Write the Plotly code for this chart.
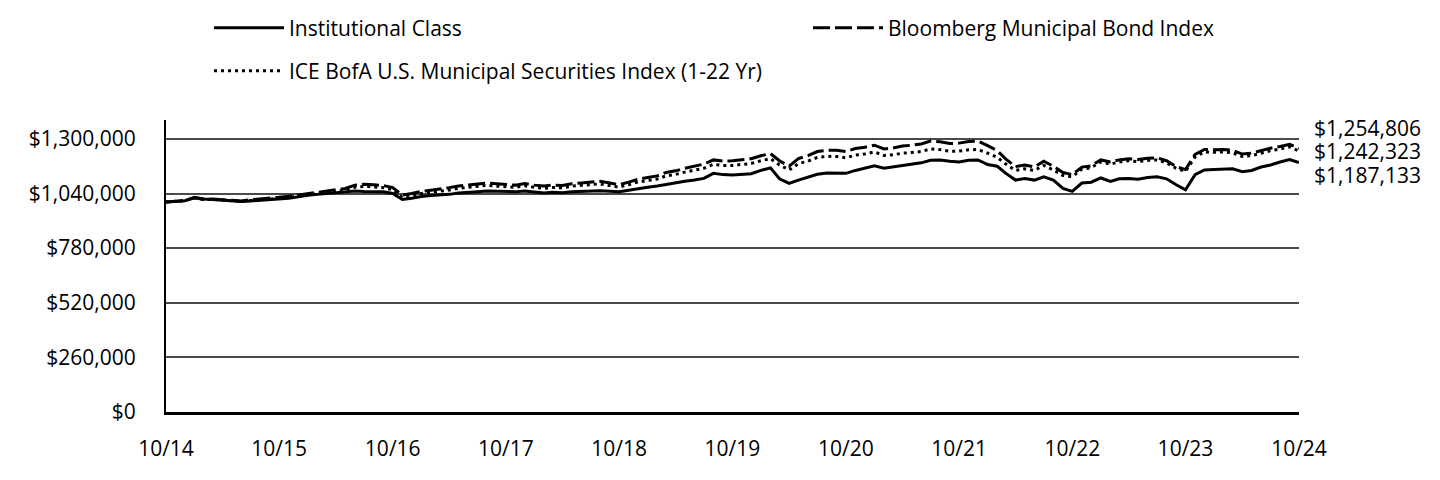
import pandas as pd
import plotly.graph_objects as go

months = pd.date_range("2014-10-01", periods=121, freq="MS")

tick_dates = ["2014-10-01", "2015-10-01", "2016-10-01", "2017-10-01", "2018-10-01",
              "2019-10-01", "2020-10-01", "2021-10-01", "2022-10-01", "2023-10-01", "2024-10-01"]
tick_labels = ["10/14", "10/15", "10/16", "10/17", "10/18", "10/19",
               "10/20", "10/21", "10/22", "10/23", "10/24"]

y_ticks = [0, 260000, 520000, 780000, 1040000, 1300000]
y_tick_labels = [f"${v:,}" for v in y_ticks]

# values in thousands of dollars
institutional_k = [
    1000, 1002, 1006, 1022, 1014, 1012, 1009, 1006, 1002, 1005, 1008, 1012,
    1015, 1018, 1024, 1032, 1036, 1040, 1045, 1048, 1052, 1050, 1050, 1048,
    1040, 1012, 1018, 1026, 1030, 1032, 1036, 1042, 1044, 1048, 1052, 1050,
    1050, 1049, 1052, 1046, 1043, 1046, 1044, 1048, 1050, 1052, 1053, 1051,
    1048, 1056, 1064, 1070, 1076, 1084, 1090, 1098, 1104, 1112, 1136, 1130,
    1128, 1130, 1134, 1150, 1162, 1110, 1088, 1104, 1118, 1132, 1138, 1138,
    1136, 1150, 1160, 1172, 1160, 1166, 1176, 1180, 1186, 1198, 1200, 1194,
    1190, 1198, 1200, 1178, 1170, 1136, 1104, 1112, 1104, 1120, 1104, 1064,
    1050, 1090, 1094, 1114, 1098, 1110, 1112, 1108, 1116, 1120, 1110, 1082,
    1058, 1130, 1152, 1154, 1156, 1158, 1144, 1150, 1166, 1176, 1190, 1202,
    1187.133,
]

bloomberg_k = [
    1000, 1002, 1006, 1020, 1012, 1014, 1010, 1007, 1005, 1010, 1013, 1018,
    1022, 1027, 1033, 1040, 1044, 1052, 1058, 1064, 1080, 1084, 1082, 1078,
    1068, 1032, 1040, 1050, 1056, 1060, 1068, 1076, 1080, 1084, 1090, 1086,
    1084, 1080, 1088, 1080, 1076, 1080, 1078, 1086, 1090, 1094, 1098, 1090,
    1082, 1094, 1108, 1116, 1124, 1140, 1148, 1160, 1170, 1180, 1200, 1194,
    1196, 1200, 1206, 1220, 1230, 1196, 1170, 1206, 1220, 1240, 1246, 1246,
    1240, 1254, 1260, 1270, 1252, 1256, 1266, 1270, 1276, 1290, 1286, 1278,
    1280, 1288, 1290, 1268, 1244, 1204, 1168, 1176, 1166, 1194, 1170, 1140,
    1130, 1166, 1172, 1200, 1190, 1200, 1206, 1202, 1208, 1210, 1196, 1168,
    1154, 1226, 1250, 1248, 1250, 1246, 1228, 1232, 1244, 1256, 1264, 1274,
    1254.806,
]

ice_k = [
    1000, 1002, 1006, 1019, 1011, 1012, 1008, 1005, 1003, 1007, 1009, 1014,
    1017, 1022, 1027, 1034, 1037, 1045, 1050, 1056, 1070, 1074, 1072, 1068,
    1058, 1022, 1030, 1040, 1045, 1049, 1057, 1065, 1069, 1073, 1079, 1075,
    1073, 1069, 1077, 1069, 1065, 1069, 1067, 1075, 1079, 1082, 1086, 1078,
    1070, 1082, 1095, 1102, 1109, 1124, 1131, 1142, 1151, 1160, 1179, 1173,
    1174, 1177, 1183, 1196, 1206, 1176, 1152, 1182, 1194, 1212, 1217, 1216,
    1210, 1223, 1228, 1238, 1221, 1224, 1232, 1235, 1240, 1252, 1249, 1241,
    1242, 1248, 1250, 1232, 1212, 1180, 1150, 1158, 1150, 1174, 1152, 1126,
    1120, 1156, 1163, 1190, 1180, 1190, 1196, 1192, 1198, 1200, 1186, 1160,
    1146, 1214, 1238, 1236, 1238, 1234, 1216, 1220, 1232, 1244, 1252, 1262,
    1242.323,
]

institutional = [round(v * 1000) for v in institutional_k]
bloomberg = [round(v * 1000) for v in bloomberg_k]
ice = [round(v * 1000) for v in ice_k]

FONT = "Open Sans"
FS = 21
W, H = 1440, 480
OFF = 8  # page body margin offset in the browser

fig = go.Figure()
fig.add_trace(go.Scatter(
    x=months, y=institutional, mode="lines", name="Institutional Class",
    line=dict(color="black", width=3), legend="legend"))
fig.add_trace(go.Scatter(
    x=months, y=bloomberg, mode="lines", name="Bloomberg Municipal Bond Index",
    line=dict(color="black", width=3, dash="17px,5px"), legend="legend3"))
fig.add_trace(go.Scatter(
    x=months, y=ice, mode="lines", name="ICE BofA U.S. Municipal Securities Index (1-22 Yr)",
    line=dict(color="black", width=3, dash="3px,4px"), legend="legend2"))

# end-value labels
label_shifts = [20, 0, -12]
for val, shift in zip([bloomberg[-1], ice[-1], institutional[-1]], label_shifts):
    fig.add_annotation(
        x=1.0115, xref="paper", y=val, yref="y", text=f"${val:,}",
        showarrow=False, xanchor="left", yanchor="middle", yshift=shift,
        font=dict(family=FONT, size=FS, color="black"))

IW = 70
def leg(px_text_x, px_y):
    return dict(orientation="h", xref="container", yref="container",
                x=(px_text_x - OFF - IW - 10) / W, y=1 - (px_y - OFF) / H,
                xanchor="left", yanchor="middle", itemwidth=IW,
                font=dict(family=FONT, size=FS, color="black"),
                bgcolor="rgba(0,0,0,0)", borderwidth=0)

fig.update_layout(
    width=W, height=H,
    margin=dict(l=166 - OFF, r=W - 1299 + OFF, t=120 - OFF, b=H - 412 + OFF, autoexpand=False),
    paper_bgcolor="white", plot_bgcolor="white",
    font=dict(family=FONT, size=FS, color="black"),
    showlegend=True,
    legend=leg(289, 28),
    legend3=leg(888, 28),
    legend2=leg(289, 71),
    xaxis=dict(
        range=[months[0], months[-1]], tickvals=tick_dates, ticktext=tick_labels,
        showgrid=False, showline=True, linecolor="black", linewidth=3,
        ticks="", zeroline=False, automargin=False, ticklabelstandoff=16,
        tickfont=dict(family=FONT, size=FS, color="black")),
    yaxis=dict(
        range=[0, 1390000], tickvals=y_ticks, ticktext=y_tick_labels,
        showgrid=True, gridcolor="#4a4a4a", gridwidth=2,
        showline=True, linecolor="black", linewidth=2, ticks="", zeroline=False,
        automargin=False, ticklabelstandoff=24,
        tickfont=dict(family=FONT, size=FS, color="black")),
)

fig.write_html("out.html")
